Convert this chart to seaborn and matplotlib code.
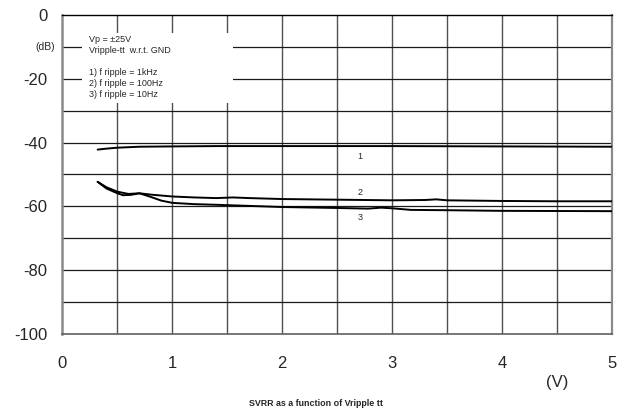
import matplotlib
matplotlib.use("Agg")
import matplotlib.pyplot as plt
import numpy as np
import pandas as pd
import seaborn as sns
from matplotlib.patches import Rectangle

# SVRR curves (dB) versus ripple amplitude (V)
v_1k = [0.32, 0.40, 0.50, 0.70, 1.00, 1.40, 2.00, 3.00, 4.00, 5.00]
svrr_1k = [-42.2, -41.9, -41.6, -41.3, -41.2, -41.1, -41.1, -41.1, -41.2, -41.3]

v_100 = [0.32, 0.40, 0.50, 0.60, 0.70, 0.80, 1.00, 1.20, 1.40, 1.55, 1.70, 2.00,
         2.50, 3.00, 3.30, 3.40, 3.50, 4.00, 4.50, 5.00]
svrr_100 = [-52.3, -54.0, -55.4, -56.1, -55.9, -56.3, -56.9, -57.2, -57.4, -57.2,
            -57.4, -57.7, -57.9, -58.1, -58.0, -57.8, -58.1, -58.3, -58.4, -58.4]

v_10 = [0.32, 0.40, 0.50, 0.55, 0.62, 0.70, 0.80, 0.90, 1.00, 1.20, 1.40, 2.00,
        2.50, 2.78, 2.90, 3.00, 3.17, 3.50, 4.00, 5.00]
svrr_10 = [-52.3, -54.4, -55.9, -56.5, -56.4, -55.9, -57.0, -58.2, -58.9, -59.3,
           -59.5, -60.2, -60.5, -60.7, -60.4, -60.6, -61.1, -61.2, -61.4, -61.5]

curve_tags = ["1", "2", "3"]
tag_pos = [(2.71, -44.5), (2.71, -55.7), (2.71, -63.4)]

x_ticks = [0, 1, 2, 3, 4, 5]
y_ticks = [0, -20, -40, -60, -80, -100]

notes = ["Vp = \u00b125V", "Vripple-tt  w.r.t. GND", "",
         "1) f ripple = 1kHz", "2) f ripple = 100Hz", "3) f ripple = 10Hz"]

df = pd.concat([
    pd.DataFrame({"V": v_1k, "SVRR": svrr_1k, "curve": "1"}),
    pd.DataFrame({"V": v_100, "SVRR": svrr_100, "curve": "2"}),
    pd.DataFrame({"V": v_10, "SVRR": svrr_10, "curve": "3"}),
])

sns.set_style("white")
plt.rcParams["font.family"] = ["Liberation Sans", "DejaVu Sans"]

fig = plt.figure(figsize=(6.28, 4.09), dpi=100)
ax = fig.add_axes([0.0995, 0.1834, 0.875, 0.78])

# grid
for gx in np.arange(0.5, 5.0, 0.5):
    ax.axvline(gx, color="#505050", lw=1.0, zorder=1)
for gy in np.arange(-90, 0, 10):
    ax.axhline(gy, color="#1a1a1a", lw=0.9, zorder=1)

# white legend panel over the grid
ax.add_patch(Rectangle((0.177, -27.6), 1.373, 22.0, facecolor="white",
                       edgecolor="none", zorder=2))
for i, line in enumerate(notes):
    ax.text(0.24, -7.8 - i * 3.45, line, fontsize=6.5, va="center", ha="left",
            zorder=3)

sns.lineplot(data=df, x="V", y="SVRR", hue="curve", units="curve",
             estimator=None, sort=False, palette=["black"] * 3, lw=1.4,
             legend=False, ax=ax, zorder=4)

for tag, (tx, ty) in zip(curve_tags, tag_pos):
    ax.text(tx, ty, tag, fontsize=6.5, ha="center", va="center", zorder=5)

ax.set_xlim(0, 5)
ax.set_ylim(-100, 0)
ax.set_xticks(x_ticks)
ax.set_yticks(y_ticks)
ax.set_xticklabels([str(t) for t in x_ticks], fontsize=12)
ax.set_yticklabels([str(t) for t in y_ticks], fontsize=12)
ax.tick_params(axis="x", direction="inout", length=9, width=1.0, color="black",
               pad=11)
ax.tick_params(axis="y", direction="out", length=5, width=0.9, color="#333333",
               pad=6)
ax.set_xlabel("")
ax.set_ylabel("")

ax.spines["left"].set_color("#8a8a8a")
ax.spines["left"].set_linewidth(1.8)
ax.spines["right"].set_color("#8a8a8a")
ax.spines["right"].set_linewidth(1.6)
ax.spines["top"].set_color("black")
ax.spines["top"].set_linewidth(1.0)
ax.spines["bottom"].set_color("#606060")
ax.spines["bottom"].set_linewidth(1.2)

ax.text(-0.155, -10, "(dB)", fontsize=7.5, ha="center", va="center",
        clip_on=False)
fig.text(557 / 628, 1 - 382 / 409, "(V)", fontsize=12, ha="center", va="center")
fig.text(316 / 628, 1 - 403 / 409, "SVRR as a function of Vripple tt",
         fontsize=6.4, fontweight="bold", ha="center", va="center")

fig.savefig("out.png", dpi=100)
